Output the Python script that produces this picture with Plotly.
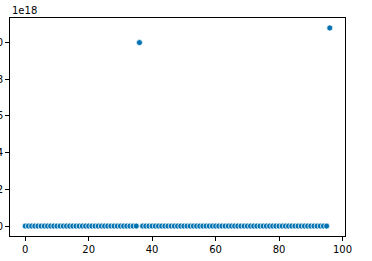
import plotly.graph_objects as go

x_idx = list(range(97))
values = [0, 0, 0, 0, 0, 0, 0, 0, 0, 0,
          0, 0, 0, 0, 0, 0, 0, 0, 0, 0,
          0, 0, 0, 0, 0, 0, 0, 0, 0, 0,
          0, 0, 0, 0, 0, 0, 1.0e18, 0, 0, 0,
          0, 0, 0, 0, 0, 0, 0, 0, 0, 0,
          0, 0, 0, 0, 0, 0, 0, 0, 0, 0,
          0, 0, 0, 0, 0, 0, 0, 0, 0, 0,
          0, 0, 0, 0, 0, 0, 0, 0, 0, 0,
          0, 0, 0, 0, 0, 0, 0, 0, 0, 0,
          0, 0, 0, 0, 0, 0, 1.08e18]
scale = 1e18
y_scaled = [v / scale for v in values]
y_tickvals = [0.0, 0.2, 0.4, 0.6, 0.8, 1.0]
y_ticktext = ["0.0", "0.2", "0.4", "0.6", "0.8", "1.0"]
x_tickvals = [0, 20, 40, 60, 80, 100]

fig = go.Figure(go.Scatter(
    x=x_idx, y=y_scaled, mode="markers",
    marker=dict(color="#0072B2", size=6, line=dict(color="white", width=0.75)),
))

axis_common = dict(showline=True, mirror=True, linecolor="black", linewidth=1,
                   ticks="outside", ticklen=4, tickcolor="black", showgrid=False,
                   zeroline=False, automargin=False,
                   tickfont=dict(family="DejaVu Sans", size=10, color="black"))

fig.update_layout(
    width=372, height=261,
    margin=dict(l=10, r=27, t=18, b=25),
    paper_bgcolor="white", plot_bgcolor="white",
    showlegend=False,
    xaxis=dict(range=[-4.8, 100.8], tickvals=x_tickvals, **axis_common),
    yaxis=dict(range=[-0.054, 1.134], tickvals=y_tickvals, ticktext=y_ticktext, **axis_common),
    annotations=[dict(text="1e18", xref="paper", yref="paper", x=0, y=1,
                      xanchor="left", yanchor="bottom", showarrow=False,
                      font=dict(family="DejaVu Sans", size=10, color="black"))],
)

fig.write_html("out.html")
